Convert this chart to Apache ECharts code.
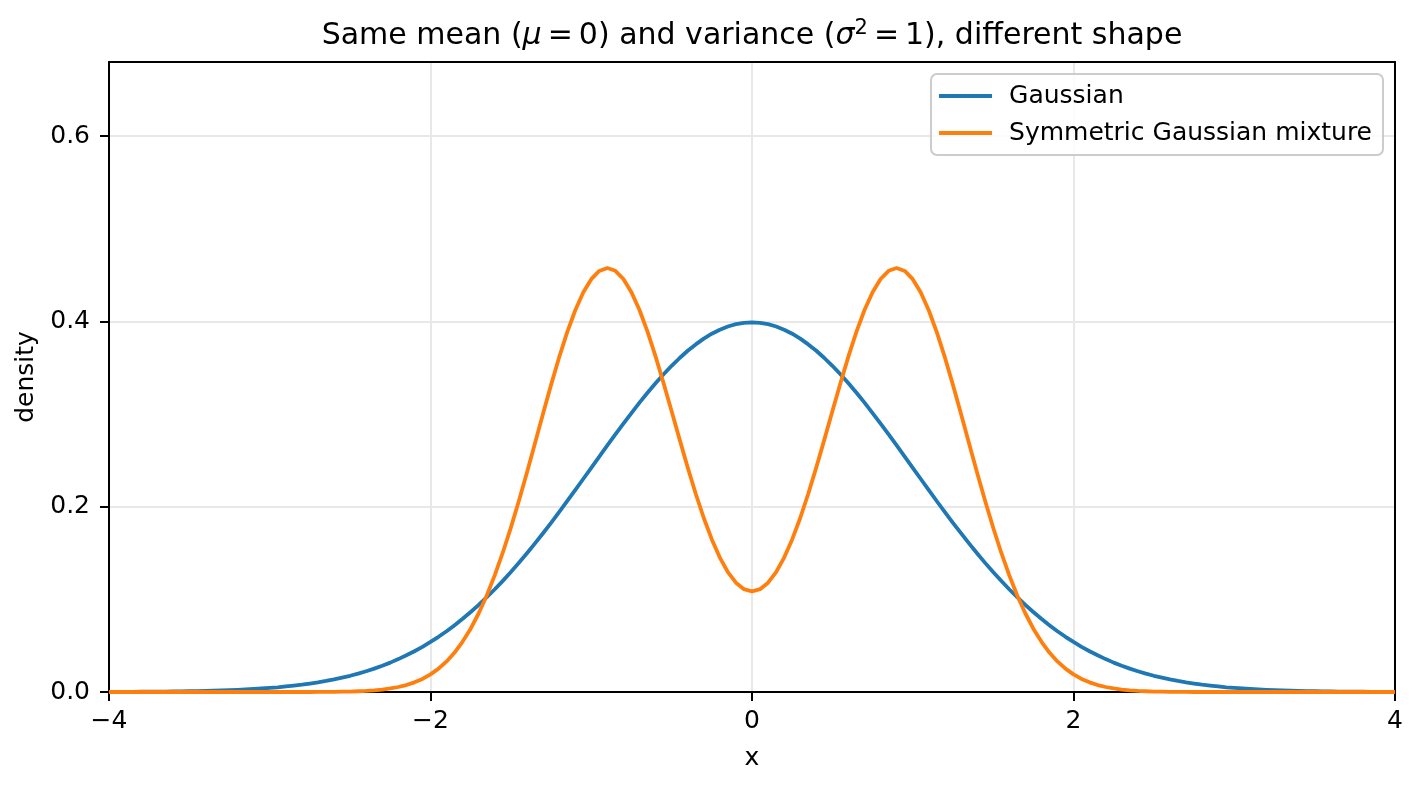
<!DOCTYPE html>
<html lang="en">
<head>
    <meta charset="UTF-8">
    <title>Same mean, different shape</title>
    <script src="https://cdn.jsdelivr.net/npm/echarts@6/dist/echarts.min.js"></script>
    <style>
        html, body { margin: 0; padding: 0; background: #fff; }
        #main { width: 1421px; height: 786px; }
    </style>
</head>
<body>
<div id="main"></div>
<script>
    // sample positions, x from -4 to 4 step 0.05
    var xs = [
        -4,-3.95,-3.9,-3.85,-3.8,-3.75,-3.7,-3.65,-3.6,-3.55,-3.5,-3.45,-3.4,-3.35,-3.3,-3.25,-3.2,-3.15,-3.1,-3.05,
        -3,-2.95,-2.9,-2.85,-2.8,-2.75,-2.7,-2.65,-2.6,-2.55,-2.5,-2.45,-2.4,-2.35,-2.3,-2.25,-2.2,-2.15,-2.1,-2.05,
        -2,-1.95,-1.9,-1.85,-1.8,-1.75,-1.7,-1.65,-1.6,-1.55,-1.5,-1.45,-1.4,-1.35,-1.3,-1.25,-1.2,-1.15,-1.1,-1.05,
        -1,-0.95,-0.9,-0.85,-0.8,-0.75,-0.7,-0.65,-0.6,-0.55,-0.5,-0.45,-0.4,-0.35,-0.3,-0.25,-0.2,-0.15,-0.1,-0.05,
        0,
        0.05,0.1,0.15,0.2,0.25,0.3,0.35,0.4,0.45,0.5,0.55,0.6,0.65,0.7,0.75,0.8,0.85,0.9,0.95,1,
        1.05,1.1,1.15,1.2,1.25,1.3,1.35,1.4,1.45,1.5,1.55,1.6,1.65,1.7,1.75,1.8,1.85,1.9,1.95,2,
        2.05,2.1,2.15,2.2,2.25,2.3,2.35,2.4,2.45,2.5,2.55,2.6,2.65,2.7,2.75,2.8,2.85,2.9,2.95,3,
        3.05,3.1,3.15,3.2,3.25,3.3,3.35,3.4,3.45,3.5,3.55,3.6,3.65,3.7,3.75,3.8,3.85,3.9,3.95,4];

    var gaussian = [
        0.0001,0.0002,0.0002,0.0002,0.0003,0.0004,0.0004,0.0005,0.0006,0.0007,
        0.0009,0.0010,0.0012,0.0015,0.0017,0.0020,0.0024,0.0028,0.0033,0.0038,
        0.0044,0.0051,0.0060,0.0069,0.0079,0.0091,0.0104,0.0119,0.0136,0.0155,
        0.0175,0.0198,0.0224,0.0252,0.0283,0.0317,0.0355,0.0396,0.0440,0.0488,
        0.0540,0.0596,0.0656,0.0721,0.0790,0.0863,0.0940,0.1023,0.1109,0.1200,
        0.1295,0.1394,0.1497,0.1604,0.1714,0.1826,0.1942,0.2059,0.2179,0.2299,
        0.2420,0.2541,0.2661,0.2780,0.2897,0.3011,0.3123,0.3230,0.3332,0.3429,
        0.3521,0.3605,0.3683,0.3752,0.3814,0.3867,0.3910,0.3945,0.3970,0.3984,
        0.3989,
        0.3984,0.3970,0.3945,0.3910,0.3867,0.3814,0.3752,0.3683,0.3605,0.3521,
        0.3429,0.3332,0.3230,0.3123,0.3011,0.2897,0.2780,0.2661,0.2541,0.2420,
        0.2299,0.2179,0.2059,0.1942,0.1826,0.1714,0.1604,0.1497,0.1394,0.1295,
        0.1200,0.1109,0.1023,0.0940,0.0863,0.0790,0.0721,0.0656,0.0596,0.0540,
        0.0488,0.0440,0.0396,0.0355,0.0317,0.0283,0.0252,0.0224,0.0198,0.0175,
        0.0155,0.0136,0.0119,0.0104,0.0091,0.0079,0.0069,0.0060,0.0051,0.0044,
        0.0038,0.0033,0.0028,0.0024,0.0020,0.0017,0.0015,0.0012,0.0010,0.0009,
        0.0007,0.0006,0.0005,0.0004,0.0004,0.0003,0.0002,0.0002,0.0002,0.0001];

    var mixture = [
        0,0,0,0,0,0,0,0,0,0,
        0,0,0,0,0,0,0,0,0,0,
        0,0,0,0,0,0,0.0001,0.0001,0.0002,0.0004,
        0.0005,0.0008,0.0012,0.0018,0.0026,0.0038,0.0054,0.0075,0.0104,0.0141,
        0.0190,0.0252,0.0330,0.0426,0.0544,0.0684,0.0850,0.1042,0.1261,0.1506,
        0.1775,0.2065,0.2370,0.2686,0.3003,0.3315,0.3611,0.3881,0.4118,0.4312,
        0.4456,0.4545,0.4576,0.4546,0.4458,0.4315,0.4123,0.3890,0.3623,0.3333,
        0.3030,0.2724,0.2424,0.2140,0.1878,0.1647,0.1451,0.1293,0.1180,0.1110,
        0.1087,
        0.1110,0.1180,0.1293,0.1451,0.1647,0.1878,0.2140,0.2424,0.2724,0.3030,
        0.3333,0.3623,0.3890,0.4123,0.4315,0.4458,0.4546,0.4576,0.4545,0.4456,
        0.4312,0.4118,0.3881,0.3611,0.3315,0.3003,0.2686,0.2370,0.2065,0.1775,
        0.1506,0.1261,0.1042,0.0850,0.0684,0.0544,0.0426,0.0330,0.0252,0.0190,
        0.0141,0.0104,0.0075,0.0054,0.0038,0.0026,0.0018,0.0012,0.0008,0.0005,
        0.0004,0.0002,0.0001,0.0001,0,0,0,0,0,0,
        0,0,0,0,0,0,0,0,0,0,
        0,0,0,0,0,0,0,0,0,0];

    var yTicks = [0, 0.2, 0.4, 0.6];
    var seriesNames = ['Gaussian', 'Symmetric Gaussian mixture'];

    function pairs(ys) {
        var out = [];
        for (var i = 0; i < xs.length; i++) {
            out.push([xs[i], ys[i]]);
        }
        return out;
    }

    var font = 'DejaVu Sans';
    var spine = { show: true, onZero: false, lineStyle: { color: '#000', width: 2 } };

    var option = {
        animation: false,
        backgroundColor: '#fff',
        textStyle: { fontFamily: font },
        title: {
            text: 'Same mean ({i|μ}\u2009=\u20090) and variance ({i|σ}{sup|2}\u2009=\u20091), different shape',
            left: 752,
            textAlign: 'center',
            top: 18,
            padding: 0,
            textStyle: {
                fontFamily: font,
                fontSize: 30,
                fontWeight: 'normal',
                color: '#000',
                lineHeight: 36,
                rich: {
                    i: { fontFamily: font, fontStyle: 'italic', fontSize: 30, color: '#000', lineHeight: 36 },
                    sup: { fontFamily: font, fontSize: 21, color: '#000', verticalAlign: 'top', lineHeight: 26 }
                }
            }
        },
        legend: {
            orient: 'vertical',
            right: 38,
            top: 74,
            data: seriesNames,
            icon: 'rect',
            itemWidth: 53,
            itemHeight: 4,
            itemGap: 7,
            padding: [7, 11, 7, 8],
            backgroundColor: 'rgba(255,255,255,0.8)',
            borderColor: '#cccccc',
            borderWidth: 2,
            borderRadius: 6,
            textStyle: { fontFamily: font, fontSize: 25, color: '#000', lineHeight: 30, padding: [0, 0, 0, 12] }
        },
        grid: {
            left: 109,
            right: 26,
            top: 62,
            bottom: 94,
            show: false
        },
        xAxis: [
            {
                type: 'value',
                min: -4,
                max: 4,
                interval: 2,
                name: 'x',
                nameLocation: 'middle',
                nameGap: 54,
                nameTextStyle: { fontFamily: font, fontSize: 25, color: '#000' },
                axisLine: spine,
                axisTick: { show: true, length: 9, lineStyle: { color: '#000', width: 2 } },
                axisLabel: {
                    fontFamily: font,
                    fontSize: 25,
                    color: '#000',
                    margin: 17,
                    formatter: function (v) { return String(v).replace('-', '\u2212'); }
                },
                splitLine: { show: true, lineStyle: { color: '#e8e8e8', width: 2 } }
            },
            {
                // top spine only
                type: 'value',
                position: 'top',
                min: -4,
                max: 4,
                interval: 2,
                axisLine: spine,
                axisTick: { show: false },
                axisLabel: { show: false },
                splitLine: { show: false }
            }
        ],
        yAxis: [
            {
                type: 'value',
                min: 0,
                max: 0.68,
                interval: 0.2,
                name: 'density',
                nameLocation: 'middle',
                nameGap: 66,
                nameTextStyle: { fontFamily: font, fontSize: 25, color: '#000' },
                axisLine: spine,
                axisTick: { show: true, length: 9, customValues: yTicks, lineStyle: { color: '#000', width: 2 } },
                axisLabel: {
                    fontFamily: font,
                    fontSize: 25,
                    color: '#000',
                    margin: 19,
                    customValues: yTicks,
                    formatter: function (v) { return v.toFixed(1); }
                },
                splitLine: { show: true, lineStyle: { color: '#e8e8e8', width: 2 } }
            },
            {
                // right spine only
                type: 'value',
                position: 'right',
                min: 0,
                max: 0.68,
                axisLine: spine,
                axisTick: { show: false },
                axisLabel: { show: false },
                splitLine: { show: false }
            }
        ],
        series: [
            {
                name: seriesNames[0],
                type: 'line',
                data: pairs(gaussian),
                showSymbol: false,
                color: '#1f77b4',
                lineStyle: { width: 3.8, color: '#1f77b4', join: 'round' }
            },
            {
                name: seriesNames[1],
                type: 'line',
                data: pairs(mixture),
                showSymbol: false,
                color: '#ff7f0e',
                lineStyle: { width: 3.8, color: '#ff7f0e', join: 'round' }
            }
        ]
    };

    echarts.init(document.getElementById('main')).setOption(option);
</script>
</body>
</html>
